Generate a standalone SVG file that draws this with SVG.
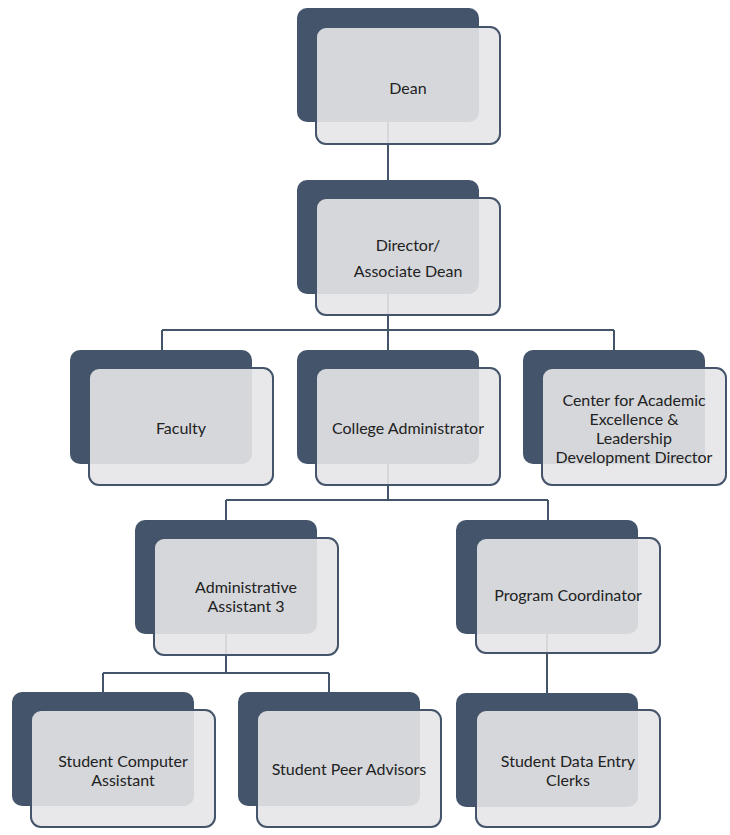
<svg xmlns="http://www.w3.org/2000/svg" width="730" height="835" viewBox="0 0 730 835">
<style>
.bk{fill:#44546a}
.fr{fill:#e6e6e8;fill-opacity:0.9;stroke:#44546a;stroke-width:2}
.t{font-family:Lato,"Open Sans","Liberation Sans",sans-serif;font-size:16px;fill:#222;text-anchor:middle;dominant-baseline:central}
.c{fill:none;stroke:#44546a;stroke-width:2}
</style>
<rect width="730" height="835" fill="#ffffff"/>
<g id="connectors">
<path class="c" d="M388 122V180"/>
<path class="c" d="M388 294V330M162 330H614M162 330V350M388 330V350M614 330V350"/>
<path class="c" d="M388 464V500M226 500H548M226 500V520M548 500V520"/>
<path class="c" d="M226 634V673M103 673H329M103 673V692M329 673V692"/>
<path class="c" d="M547 634V693"/>
</g>
<g id="dean">
<rect class="bk" x="297" y="8" width="182" height="114" rx="10"/>
<rect class="fr" x="316" y="27" width="184" height="117" rx="10"/>
<text class="t" x="408" y="87">Dean</text>
</g>
<g id="director">
<rect class="bk" x="297" y="180" width="182" height="114" rx="10"/>
<rect class="fr" x="316" y="198" width="184" height="117" rx="10"/>
<text class="t" x="408" y="244">Director/</text>
<text class="t" x="408" y="270">Associate Dean</text>
</g>
<g id="faculty">
<rect class="bk" x="70" y="350" width="182" height="114" rx="10"/>
<rect class="fr" x="89" y="368" width="184" height="117" rx="10"/>
<text class="t" x="181" y="427">Faculty</text>
</g>
<g id="college-admin">
<rect class="bk" x="297" y="350" width="182" height="114" rx="10"/>
<rect class="fr" x="316" y="368" width="184" height="117" rx="10"/>
<text class="t" x="408" y="427">College Administrator</text>
</g>
<g id="center">
<rect class="bk" x="523" y="350" width="182" height="114" rx="10"/>
<rect class="fr" x="542" y="368" width="184" height="117" rx="10"/>
<text class="t" x="634" y="399">Center for Academic</text>
<text class="t" x="634" y="418">Excellence &amp;</text>
<text class="t" x="634" y="437">Leadership</text>
<text class="t" x="634" y="456">Development Director</text>
</g>
<g id="admin-assistant">
<rect class="bk" x="135" y="520" width="182" height="114" rx="10"/>
<rect class="fr" x="154" y="538" width="184" height="117" rx="10"/>
<text class="t" x="246" y="586">Administrative</text>
<text class="t" x="246" y="605">Assistant 3</text>
</g>
<g id="program-coordinator">
<rect class="bk" x="456" y="520" width="182" height="114" rx="10"/>
<rect class="fr" x="476" y="538" width="184" height="115" rx="10"/>
<text class="t" x="568" y="594">Program Coordinator</text>
</g>
<g id="student-computer">
<rect class="bk" x="12" y="692" width="182" height="114" rx="10"/>
<rect class="fr" x="31" y="710" width="184" height="117" rx="10"/>
<text class="t" x="123" y="760">Student Computer</text>
<text class="t" x="123" y="779">Assistant</text>
</g>
<g id="peer-advisors">
<rect class="bk" x="238" y="692" width="182" height="114" rx="10"/>
<rect class="fr" x="257" y="710" width="184" height="117" rx="10"/>
<text class="t" x="349" y="768">Student Peer Advisors</text>
</g>
<g id="data-entry">
<rect class="bk" x="456" y="693" width="182" height="114" rx="10"/>
<rect class="fr" x="476" y="710" width="184" height="117" rx="10"/>
<text class="t" x="568" y="760">Student Data Entry</text>
<text class="t" x="568" y="779">Clerks</text>
</g>
</svg>
